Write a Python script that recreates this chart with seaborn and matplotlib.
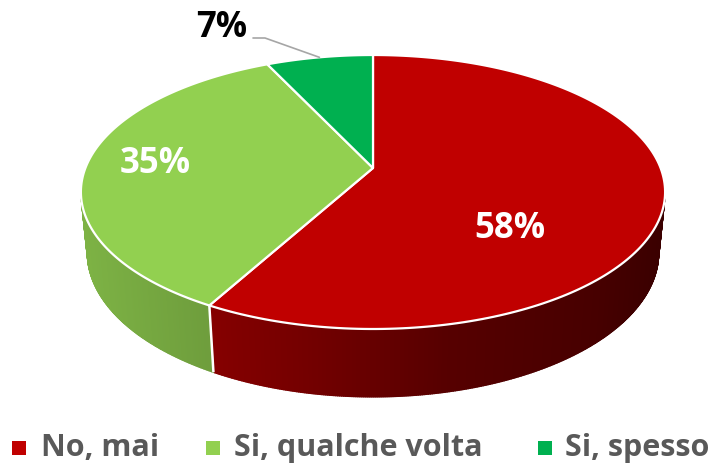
import numpy as np
import matplotlib
matplotlib.use("Agg")
import matplotlib.pyplot as plt
from matplotlib.patches import Polygon, Rectangle
from matplotlib.collections import PolyCollection
import matplotlib.colors as mcolors
import seaborn as sns

# Survey answers
categories = ["No, mai", "Si, qualche volta", "Si, spesso"]
values = [58, 35, 7]
value_labels = ["58%", "35%", "7%"]
top_colors = ["#C00000", "#92D050", "#00B050"]

sns.set_theme(style="white")
plt.rcParams["font.family"] = ["Open Sans", "DejaVu Sans"]

W, H = 711, 465
fig = plt.figure(figsize=(W / 100, H / 100), dpi=100)
ax = fig.add_axes([0, 0, 1, 1])
ax.set_xlim(0, W)
ax.set_ylim(H, 0)
ax.axis("off")

# Perspective camera looking down on a unit disc
phi = np.radians(27.5)
s, c = np.sin(phi), np.cos(phi)
D, F = 5.063, 1456.0
cx, cy = 373.0, 168.0
thick = 0.239


def proj(t, y=0.0, r=1.0):
    X = r * np.cos(t)
    Z = -r * np.sin(t)
    depth = D - y * s - Z * c
    up = y * c - Z * s
    return cx + F * X / depth, cy - F * up / depth


# slice boundaries, clockwise from 12 o'clock
total = float(sum(values))
cum = np.concatenate([[0.0], np.cumsum(values)]) / total
bounds = np.radians(90.0 - 360.0 * cum)

# visible part of the rim (outward normal facing the camera)
zmin = 1.0 / (D * c)
vis_lo = -np.pi + np.arcsin(zmin)
vis_hi = -np.arcsin(zmin)

# rim shading along the screen x direction
shade_x = {0: ([205, 300, 450, 600, 670], [0.70, 0.61, 0.45, 0.37, 0.30]),
           1: ([80, 205], [0.86, 0.76]),
           2: ([0, 711], [0.7, 0.5])}

polys, fcols = [], []
for i, col in enumerate(top_colors):
    t_start, t_end = bounds[i], bounds[i + 1]
    a = max(t_end, vis_lo)
    b = min(t_start, vis_hi)
    if a >= b:
        continue
    ts = np.linspace(a, b, max(4, int(np.degrees(b - a) * 3)))
    base = np.array(mcolors.to_rgb(col))
    xs_pts, fs_pts = shade_x[i]
    for t0, t1 in zip(ts[:-1], ts[1:]):
        p0, p1 = proj(t0), proj(t1)
        q1, q0 = proj(t1, -thick), proj(t0, -thick)
        polys.append([p0, p1, q1, q0])
        xm = 0.5 * (p0[0] + p1[0])
        fcols.append(np.clip(base * np.interp(xm, xs_pts, fs_pts), 0, 1))

rim = PolyCollection(polys, facecolors=fcols, edgecolors=fcols,
                     linewidths=1.0, zorder=1)
ax.add_collection(rim)

# white seams on the rim at slice boundaries
for t in bounds:
    tt = (t + np.pi) % (2 * np.pi) - np.pi
    if vis_lo < tt < vis_hi:
        p, q = proj(tt), proj(tt, -thick)
        ax.plot([p[0], q[0]], [p[1], q[1]], color="white", lw=1.8, zorder=2,
                solid_capstyle="butt")

# top faces
for i, col in enumerate(top_colors):
    ts = np.linspace(bounds[i], bounds[i + 1], 200)
    pts = [(cx, cy)] + [proj(t) for t in ts]
    ax.add_patch(Polygon(pts, closed=True, facecolor=col, edgecolor="white",
                         lw=1.6, joinstyle="round", zorder=3))

# value labels
ax.text(510, 238, value_labels[0], color="white", fontsize=25,
        fontweight="bold", ha="center", va="baseline", zorder=5)
ax.text(155, 173, value_labels[1], color="white", fontsize=25,
        fontweight="bold", ha="center", va="baseline", zorder=5)
ax.text(222, 37, value_labels[2], color="black", fontsize=25,
        fontweight="bold", ha="center", va="baseline", zorder=5)

# leader line for the small slice
tm = 0.5 * (bounds[2] + bounds[3])
ex, ey = proj(tm)
ax.plot([253, 265, ex], [38, 38, ey], color="#A6A6A6", lw=1.2, zorder=4)

# legend
sq_x = [12, 206, 538]
tx_x = [41, 234, 565]
for col, name, sx, tx in zip(top_colors, categories, sq_x, tx_x):
    ax.add_patch(Rectangle((sx, 441), 14, 14, facecolor=col, edgecolor="none"))
    ax.text(tx, 456, name, color="#595959", fontsize=22, fontweight="bold",
            ha="left", va="baseline")

fig.savefig("out.png", dpi=100)
